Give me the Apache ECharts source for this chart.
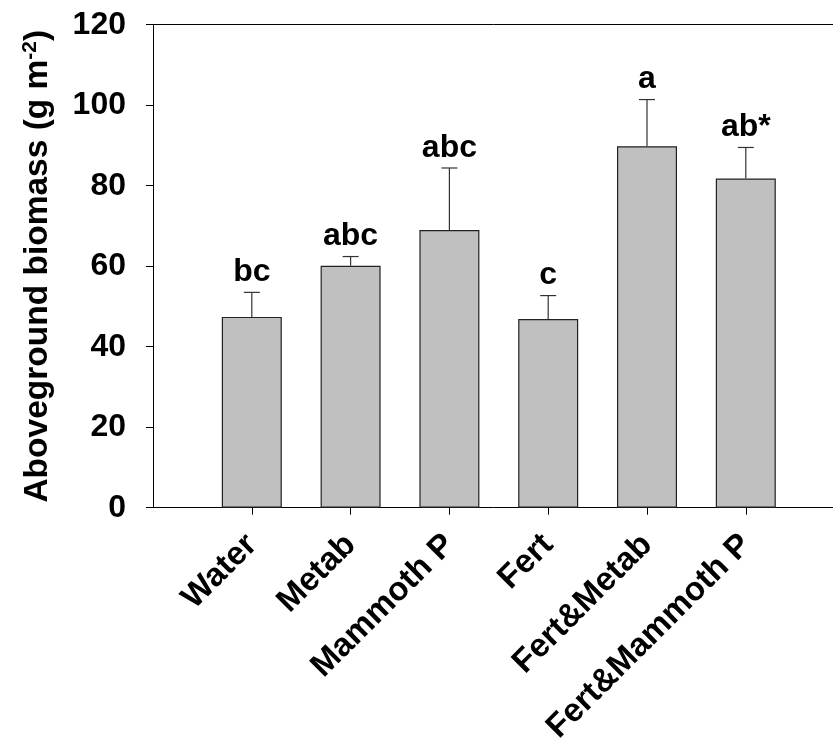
<!DOCTYPE html>
<html>
<head>
<meta charset="utf-8">
<script src="https://cdn.jsdelivr.net/npm/echarts@6/dist/echarts.min.js"></script>
<style>
html,body{margin:0;padding:0;background:#fff;}
#chart{width:833px;height:742px;}
</style>
</head>
<body>
<div id="chart"></div>
<script>
const categories = ['Water', 'Metab', 'Mammoth P', 'Fert', 'Fert&Metab', 'Fert&Mammoth P'];
const means = [47.4, 60.1, 69.0, 46.9, 89.8, 81.8];
const errors = [6.1, 2.3, 15.4, 5.8, 11.6, 7.7];
const letters = ['bc', 'abc', 'abc', 'c', 'a', 'ab*'];
const yTicks = [0, 20, 40, 60, 80, 100, 120];

const FONT = "'Liberation Sans', Arial, sans-serif";
const axisCats = [''].concat(categories, ['']);
const barData = ['-'].concat(means, ['-']);
const errData = categories.map((c, i) => [i + 1, means[i], means[i] + errors[i], letters[i]]);

const chart = echarts.init(document.getElementById('chart'), null, {renderer: 'canvas'});
chart.setOption({
  animation: false,
  backgroundColor: '#fff',
  grid: {left: 153, top: 24.7, height: 483, right: -11.6, containLabel: false, outerBoundsMode: 'none'},
  xAxis: [{
    type: 'category',
    data: axisCats,
    boundaryGap: false,
    axisLine: {lineStyle: {color: '#000', width: 1}},
    axisTick: {show: true, length: 7, inside: false, lineStyle: {color: '#000', width: 1},
      interval: function (index, value) { return value !== ''; }},
    axisLabel: {interval: 0, rotate: 45, margin: 32, color: '#000',
      fontFamily: FONT, fontWeight: 'bold', fontSize: 33},
    splitLine: {show: false}
  }, {
    type: 'value', position: 'top', min: 0, max: 1,
    axisLine: {show: true, lineStyle: {color: '#000', width: 1}},
    axisTick: {show: false}, axisLabel: {show: false}, splitLine: {show: false}
  }],
  yAxis: {
    type: 'value', min: 0, max: 120, interval: 20,
    axisLine: {show: true, lineStyle: {color: '#000', width: 1}},
    axisTick: {show: true, length: 7, inside: false, lineStyle: {color: '#000', width: 1}},
    axisLabel: {margin: 27, color: '#000', fontFamily: FONT, fontWeight: 'bold', fontSize: 32,
      customValues: yTicks},
    splitLine: {show: false},
    name: 'Aboveground biomass (g m{sup|-2})',
    nameLocation: 'middle',
    nameRotate: 90,
    nameGap: 97,
    nameTextStyle: {color: '#000', fontFamily: FONT, fontWeight: 'bold', fontSize: 33.5,
      rich: {sup: {fontSize: 21, fontWeight: 'bold', fontFamily: FONT, color: '#000', verticalAlign: 'top', padding: [0, 0, 15, 0]}}}
  },
  series: [{
    type: 'bar',
    data: barData,
    barWidth: 60,
    itemStyle: {color: '#C0C0C0', borderColor: '#222', borderWidth: 1.2},
    silent: true
  }, {
    type: 'custom',
    data: errData,
    encode: {x: 0, y: 2},
    silent: true,
    z: 5,
    renderItem: function (params, api) {
      const x = api.value(0);
      const p0 = api.coord([x, api.value(1)]);
      const p1 = api.coord([x, api.value(2)]);
      const cap = 8;
      return {
        type: 'group',
        children: [
          {type: 'line', shape: {x1: p0[0], y1: p0[1], x2: p1[0], y2: p1[1]}, style: {stroke: '#333', lineWidth: 1.2}},
          {type: 'line', shape: {x1: p1[0] - cap, y1: p1[1], x2: p1[0] + cap, y2: p1[1]}, style: {stroke: '#333', lineWidth: 1.2}},
          {type: 'text', x: p1[0], y: p1[1] - 4,
            style: {text: api.value(3), fill: '#000', font: 'bold 32px ' + FONT, textAlign: 'center', textVerticalAlign: 'bottom'}}
        ]
      };
    }
  }]
});
</script>
</body>
</html>
